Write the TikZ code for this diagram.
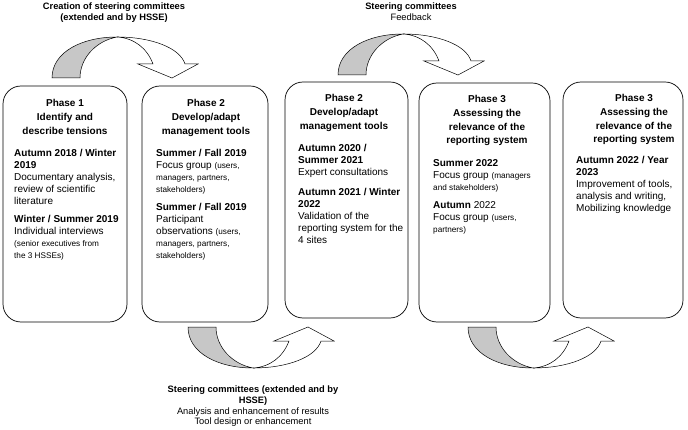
\documentclass[tikz,border=0pt]{standalone}
\usepackage{fontspec}
\setmainfont{Liberation Sans}
\usetikzlibrary{positioning}
\newcommand{\smalltxt}[1]{{\fontsize{8.2}{9}\selectfont #1}}

\begin{document}
\begin{tikzpicture}[x=1pt, y=-1pt,
    phase/.style={rectangle, draw, line width=0.7pt, rounded corners=18pt, inner sep=0pt},
    head/.style={anchor=north, align=center, inner sep=0pt, font=\fontsize{10}{13.6}\selectfont\bfseries},
    detail/.style={anchor=north west, align=left, inner sep=0pt, font=\fontsize{10}{12}\selectfont},
    remark/.style={anchor=north, align=center, inner sep=0pt, font=\fontsize{9.3}{10.8}\selectfont},
    bentarrow/.pic={
        \filldraw[fill=black!22, line width=0.5pt] (0,0) .. controls (0,-26) and (30,-41) .. (65,-41)
            .. controls (44,-37) and (28,-20) .. (28,0) -- cycle;
        \filldraw[fill=white, line width=0.5pt] (65,-41) .. controls (100,-41) and (128,-30) .. (133,-14)
            -- (146,-14) -- (120,0) -- (86,-14) -- (101,-14)
            .. controls (95,-30) and (82,-40) .. (65,-41) -- cycle;
    }
]
    \useasboundingbox (0,0) rectangle (688,430);

    % the five phase boxes
    \node[phase, minimum width=124pt, minimum height=236pt] (p1) at (65,204) {};
    \node[phase, minimum width=126pt, minimum height=236pt] (p2) at (205,204) {};
    \node[phase, minimum width=123pt, minimum height=236pt] (p3) at (346.5,200) {};
    \node[phase, minimum width=131pt, minimum height=239pt] (p4) at (484.5,202.5) {};
    \node[phase, minimum width=120pt, minimum height=236pt] (p5) at (623,200) {};

    \node[head] (t1) at (65,99.5) {Phase 1\\Identify and\\describe tensions};
    \node[head] (t2) at (206,99.5) {Phase 2\\Develop/adapt\\management tools};
    \node[head] (t3) at (344,94.5) {Phase 2\\Develop/adapt\\management tools};
    \node[head] (t4) at (487,95.5) {Phase 3\\Assessing the\\relevance of the\\reporting system};
    \node[head] (t5) at (634,94.5) {Phase 3\\Assessing the\\relevance of the\\reporting system};

    \node[detail] (b1) at (14,149.5) {\textbf{Autumn 2018 / Winter}\\\textbf{2019}\\Documentary analysis,\\review of scientific\\literature\\[6pt]
        \textbf{Winter / Summer 2019}\\Individual interviews\\\smalltxt{(senior executives from}\\\smalltxt{the 3 HSSEs)}};
    \node[detail] (b2) at (156,149.5) {\textbf{Summer / Fall 2019}\\Focus group \smalltxt{(users,}\\\smalltxt{managers, partners,}\\\smalltxt{stakeholders)}\\[6pt]
        \textbf{Summer / Fall 2019}\\Participant\\observations \smalltxt{(users,}\\\smalltxt{managers, partners,}\\\smalltxt{stakeholders)}};
    \node[detail] (b3) at (298,144.5) {\textbf{Autumn 2020 /}\\\textbf{Summer 2021}\\Expert consultations\\[8pt]
        \textbf{Autumn 2021 / Winter}\\\textbf{2022}\\Validation of the\\reporting system for the\\4 sites};
    \node[detail] (b4) at (433,159.5) {\textbf{Summer 2022}\\Focus group \smalltxt{(managers}\\\smalltxt{and stakeholders)}\\[6pt]
        \textbf{Autumn} 2022\\Focus group \smalltxt{(users,}\\\smalltxt{partners)}};
    \node[detail] (b5) at (576,156.5) {\textbf{Autumn 2022 / Year}\\\textbf{2023}\\Improvement of tools,\\analysis and writing,\\Mobilizing knowledge};

    % committee loops between phases
    \pic at (52,78) {bentarrow};
    \pic at (338,75) {bentarrow};
    \pic[yscale=-1] at (188,327) {bentarrow};
    \pic[yscale=-1] at (468,327) {bentarrow};

    \node[remark, font=\fontsize{9.3}{10.8}\selectfont\bfseries] (c1) at (114,2.5) {Creation of steering committees\\(extended and by HSSE)};
    \node[remark] (c2) at (411,2.5) {\textbf{Steering committees}\\Feedback};
    \node[remark] (c3) at (253,385.5) {\textbf{Steering committees (extended and by}\\\textbf{HSSE)}\\Analysis and enhancement of results\\Tool design or enhancement};
\end{tikzpicture}
\end{document}
